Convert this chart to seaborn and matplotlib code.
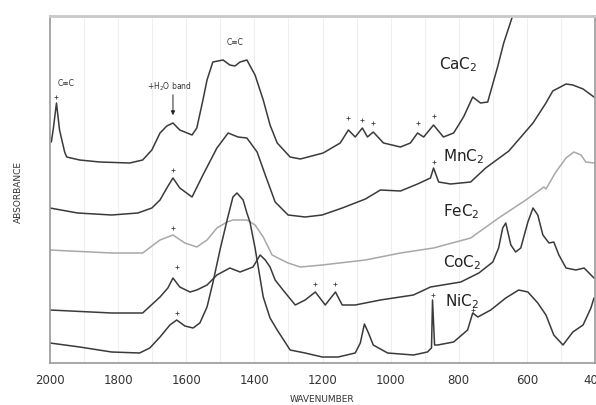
import matplotlib
matplotlib.use("Agg")
import matplotlib.pyplot as plt
import seaborn as sns

# --- spectra (wavenumber in cm-1, absorbance in arbitrary offset units) ---
cac2_wn = [1996, 1990, 1981, 1972, 1957, 1951, 1913, 1854, 1766, 1728, 1701, 1677, 1657, 1639, 1619,
           1583, 1569, 1551, 1539, 1522, 1492, 1472, 1457, 1442, 1422, 1398, 1374, 1354, 1333, 1295,
           1265, 1198, 1148, 1124, 1104, 1083, 1068, 1051, 1021, 971, 942, 921, 903, 874, 845, 815,
           786, 759, 736, 715, 686, 668, 641, 618]
cac2_abs = [2.21, 2.35, 2.60, 2.33, 2.11, 2.06, 2.03, 2.01, 2.00, 2.03, 2.13, 2.30, 2.37, 2.40, 2.33,
            2.28, 2.35, 2.63, 2.83, 3.01, 3.03, 2.98, 2.97, 3.01, 3.03, 2.88, 2.63, 2.38, 2.20, 2.06,
            2.04, 2.10, 2.20, 2.33, 2.26, 2.35, 2.26, 2.31, 2.20, 2.16, 2.20, 2.30, 2.26, 2.38, 2.26, 2.30,
            2.46, 2.66, 2.60, 2.61, 2.96, 3.20, 3.48, 3.73]

mnc2_wn = [2000, 1919, 1819, 1742, 1701, 1677, 1657, 1639, 1619, 1583, 1551, 1510, 1477, 1448, 1422,
           1392, 1368, 1339, 1301, 1251, 1201, 1142, 1074, 1030, 971, 921, 883, 874, 859, 824, 765,
           721, 653, 582, 544, 524, 485, 465, 435, 403]
mnc2_abs = [1.55, 1.50, 1.48, 1.50, 1.55, 1.63, 1.75, 1.85, 1.75, 1.66, 1.88, 2.15, 2.30, 2.26, 2.25,
            2.11, 1.88, 1.61, 1.48, 1.46, 1.48, 1.55, 1.64, 1.73, 1.72, 1.79, 1.85, 1.95, 1.81, 1.79, 1.81,
            1.95, 2.12, 2.40, 2.60, 2.72, 2.79, 2.78, 2.74, 2.66]

fec2_wn = [2000, 1819, 1728, 1677, 1639, 1604, 1569, 1539, 1510, 1480, 1463, 1422, 1398, 1374, 1348,
           1325, 1301, 1265, 1201, 1074, 971, 874, 765, 683, 603, 550, 544, 515, 485, 462, 441, 427, 403]
fec2_abs = [1.13, 1.10, 1.10, 1.23, 1.28, 1.20, 1.16, 1.23, 1.35, 1.41, 1.43, 1.43, 1.38, 1.26, 1.08,
            1.04, 1.00, 0.96, 0.98, 1.03, 1.10, 1.15, 1.25, 1.45, 1.63, 1.76, 1.74, 1.91, 2.05, 2.11,
            2.08, 2.01, 2.00]

coc2_wn = [2000, 1819, 1728, 1677, 1654, 1639, 1619, 1589, 1569, 1539, 1510, 1472, 1442, 1404, 1383,
           1368, 1354, 1339, 1316, 1280, 1251, 1221, 1192, 1162, 1142, 1104, 1030, 933, 883, 794, 741,
           700, 683, 671, 662, 647, 633, 618, 597, 582, 568, 553, 535, 521, 506, 485, 456, 432, 403]
coc2_abs = [0.53, 0.50, 0.50, 0.66, 0.75, 0.85, 0.76, 0.71, 0.73, 0.78, 0.88, 0.95, 0.91, 0.96, 1.08,
            1.03, 0.96, 0.83, 0.73, 0.58, 0.63, 0.71, 0.58, 0.71, 0.58, 0.58, 0.63, 0.68, 0.76, 0.81, 0.90,
            1.01, 1.15, 1.35, 1.40, 1.18, 1.11, 1.15, 1.41, 1.55, 1.48, 1.28, 1.20, 1.21, 1.08, 0.95,
            0.93, 0.95, 0.85]

nic2_wn = [2000, 1913, 1819, 1737, 1707, 1677, 1648, 1628, 1604, 1580, 1560, 1539, 1522, 1501, 1480,
           1463, 1451, 1433, 1422, 1413, 1398, 1374, 1354, 1333, 1295, 1251, 1201, 1154, 1104, 1089,
           1077, 1065, 1051, 1009, 933, 892, 880, 877, 871, 862, 815, 774, 759, 744, 706, 662, 624,
           597, 568, 544, 521, 494, 465, 435, 412, 403]
nic2_abs = [0.20, 0.16, 0.11, 0.10, 0.15, 0.26, 0.38, 0.43, 0.37, 0.35, 0.40, 0.56, 0.80, 1.13, 1.43,
            1.66, 1.70, 1.63, 1.50, 1.41, 1.15, 0.66, 0.45, 0.33, 0.13, 0.10, 0.06, 0.06, 0.10, 0.20,
            0.39, 0.30, 0.18, 0.10, 0.08, 0.11, 0.15, 0.63, 0.18, 0.18, 0.21, 0.33, 0.50, 0.46, 0.53,
            0.65, 0.73, 0.71, 0.60, 0.48, 0.28, 0.18, 0.31, 0.38, 0.55, 0.65]

series_names = ["CaC$_2$", "MnC$_2$", "FeC$_2$", "CoC$_2$", "NiC$_2$"]
label_wn = [859, 847, 845, 845, 839]
label_abs = [2.98, 2.06, 1.51, 1.00, 0.61]

# small "+" marks above assigned peaks
mark_wn = [1981, 1124, 1083, 1051, 921, 874, 1639, 874, 1639, 1628, 1221, 1162, 1628, 877, 759]
mark_abs = [2.66, 2.45, 2.43, 2.40, 2.40, 2.47, 1.93, 2.01, 1.35, 0.96, 0.79, 0.79, 0.50, 0.68, 0.53]

xticks_major = [2000, 1800, 1600, 1400, 1200, 1000, 800, 600, 400]
xticks_minor = [1900, 1700, 1500, 1300, 1100, 900, 700, 500]

sns.set_style("white")
plt.rcParams["font.family"] = ["DejaVu Sans"]

fig = plt.figure(figsize=(5.96, 4.05), dpi=100)
ax = fig.add_axes([50 / 596, 42 / 405, 545 / 596, 347 / 405])

dark = "#3a3a3a"
spectra = [(cac2_wn, cac2_abs, dark), (mnc2_wn, mnc2_abs, dark), (fec2_wn, fec2_abs, "#a8a8a8"),
           (coc2_wn, coc2_abs, dark), (nic2_wn, nic2_abs, dark)]
for wn, ab, col in spectra:
    sns.lineplot(x=wn, y=ab, ax=ax, color=col, lw=1.1, estimator=None, sort=False)

sns.scatterplot(x=mark_wn, y=mark_abs, ax=ax, marker="+", s=8, color="#444444", linewidth=0.6)

for name, lx, ly in zip(series_names, label_wn, label_abs):
    ax.text(lx, ly, name, fontsize=11, color="#222222", ha="left", va="center")

# peak annotations
ax.text(1978, 2.80, "C≡C", fontsize=5.5, color="#333333", ha="left", va="center")
ax.text(1457, 3.20, "C≡C", fontsize=5.5, color="#333333", ha="center", va="center")
ax.text(1651, 2.76, "+H$_2$O band", fontsize=5.5, color="#333333", ha="center", va="center")
ax.annotate("", xy=(1639, 2.45), xytext=(1639, 2.71),
            arrowprops=dict(arrowstyle="-|>", color="#222222", lw=0.7, mutation_scale=6))

ax.set_xlim(2000, 400)
ax.set_ylim(0, 3.47)
ax.set_xticks(xticks_major)
ax.set_xticks(xticks_minor, minor=True)
ax.set_xticklabels([str(t) for t in xticks_major], fontsize=8.5, color="#333333")
ax.set_yticks([])
ax.tick_params(axis="x", which="both", direction="in", length=4, width=0.8, color="#888888", pad=8)
for t in xticks_major + xticks_minor:
    ax.axvline(t, color="#efefef", lw=0.8, zorder=0)

for side in ["left", "bottom", "right"]:
    ax.spines[side].set_color("#999999")
    ax.spines[side].set_linewidth(1.2)
ax.spines["top"].set_color("#c8c8c8")
ax.spines["top"].set_linewidth(2)

ax.set_xlabel("")
ax.set_ylabel("")
fig.text(322 / 596, 1 - 400 / 405, "WAVENUMBER", fontsize=6.5, color="#333333", ha="center", va="center")
fig.text(18 / 596, 1 - 192 / 405, "ABSORBANCE", fontsize=6.5, color="#333333", ha="center", va="center",
         rotation=90)

fig.savefig("out.png", dpi=100)
